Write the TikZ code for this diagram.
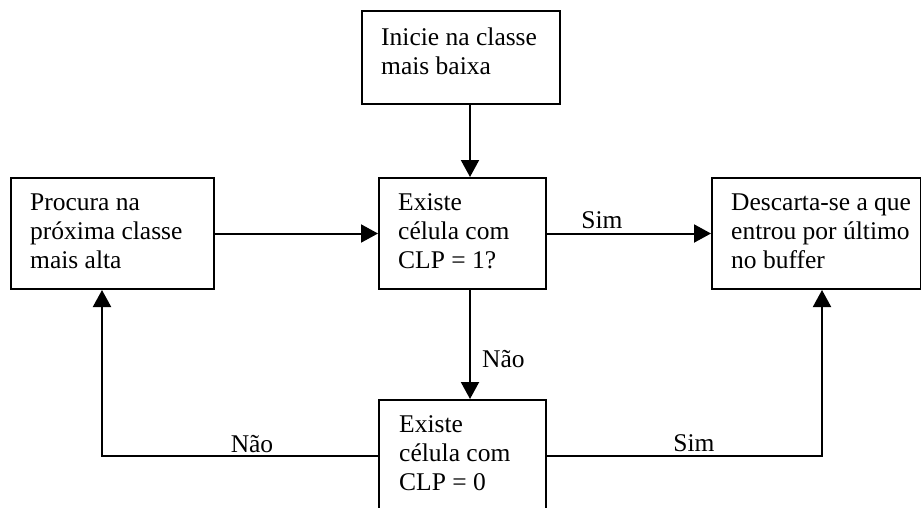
\documentclass[tikz,border=0pt]{standalone}
\usepackage{fontspec}
\setmainfont{Liberation Serif}
\usetikzlibrary{arrows.meta}
\newcommand\bxtxt[1]{\parbox[t]{300pt}{\fontsize{25.5}{29}\selectfont\raggedright #1}}
\begin{document}
\begin{tikzpicture}[x=1pt,y=-1pt,
  bx/.style={draw=black, line width=2pt, inner sep=0pt, anchor=north west},
  txt/.style={inner sep=0pt, anchor=base west},
  lbl/.style={inner sep=0pt, font=\fontsize{25.5}{29}\selectfont},
  arr/.style={line width=2pt, -{Triangle[length=17pt,width=18pt]}},
  ln/.style={line width=2pt}]
\useasboundingbox (0,0) rectangle (921,507);
\clip (0,0) rectangle (921,507);
% boxes
\node[bx, minimum width=198pt, minimum height=93pt] (top) at (361,10) {};
\node[bx, minimum width=203pt, minimum height=111pt] (lft) at (10,177) {};
\node[bx, minimum width=167pt, minimum height=111pt] (mid) at (378,177) {};
\node[bx, minimum width=209pt, minimum height=111pt] (rgt) at (711,177) {};
\node[bx, minimum width=167pt, minimum height=111pt] (bot) at (378,399) {};
% texts
\node[txt] (ttop) at (381,45) {\bxtxt{Inicie na classe\\mais baixa}};
\node[txt] (tlft) at (30,210) {\bxtxt{Procura na\\próxima classe\\mais alta}};
\node[txt] (tmid) at (398,210) {\bxtxt{Existe\\célula com\\CLP = 1?}};
\node[txt] (trgt) at (731,210) {\bxtxt{Descarta-se a que\\entrou por último\\no buffer}};
\node[txt] (tbot) at (399,432) {\bxtxt{Existe\\célula com\\CLP = 0}};
% helper coordinates
\coordinate (cx) at (470,0);
\coordinate (lx) at (102,0);
\coordinate (rx) at (822,0);
% connectors
\draw[arr] (top.south -| cx) -- (mid.north -| cx);
\draw[arr] (lft.east) -- (mid.west);
\draw[arr] (mid.east) -- (rgt.west);
\draw[arr] (mid.south -| cx) -- (bot.north -| cx);
\draw[arr] (bot.west) -| (lft.south -| lx);
\draw[arr] (bot.east) -| (rgt.south -| rx);
% labels
\node[lbl, anchor=base] (s1) at (602,228) {Sim};
\node[lbl, anchor=base] (n1) at (252,452) {Não};
\node[lbl, anchor=base] (s2) at (694,451) {Sim};
\node[lbl, anchor=base west] (n2) at (482,367) {Não};
\end{tikzpicture}
\end{document}
